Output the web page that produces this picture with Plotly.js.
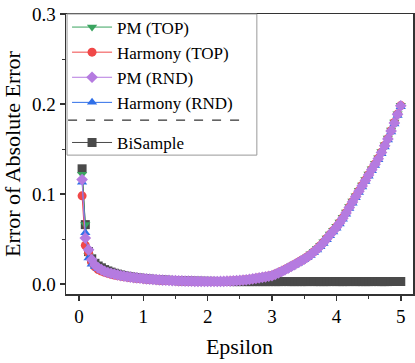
<!DOCTYPE html>
<html>
<head>
<meta charset="utf-8">
<script src="https://cdn.plot.ly/plotly-3.0.1.min.js"></script>
<style>
  html, body { margin: 0; padding: 0; background: #fff; }
  #chart { width: 415px; height: 363px; }
</style>
</head>
<body>
<div id="chart"></div>
<script>
// epsilon values, step 0.05
const epsilon = [
  0.05, 0.10, 0.15, 0.20, 0.25, 0.30, 0.35, 0.40, 0.45, 0.50,
  0.55, 0.60, 0.65, 0.70, 0.75, 0.80, 0.85, 0.90, 0.95, 1.00,
  1.05, 1.10, 1.15, 1.20, 1.25, 1.30, 1.35, 1.40, 1.45, 1.50,
  1.55, 1.60, 1.65, 1.70, 1.75, 1.80, 1.85, 1.90, 1.95, 2.00,
  2.05, 2.10, 2.15, 2.20, 2.25, 2.30, 2.35, 2.40, 2.45, 2.50,
  2.55, 2.60, 2.65, 2.70, 2.75, 2.80, 2.85, 2.90, 2.95, 3.00,
  3.05, 3.10, 3.15, 3.20, 3.25, 3.30, 3.35, 3.40, 3.45, 3.50,
  3.55, 3.60, 3.65, 3.70, 3.75, 3.80, 3.85, 3.90, 3.95, 4.00,
  4.05, 4.10, 4.15, 4.20, 4.25, 4.30, 4.35, 4.40, 4.45, 4.50,
  4.55, 4.60, 4.65, 4.70, 4.75, 4.80, 4.85, 4.90, 4.95, 5.00
];

const pmTop = [
  0.122, 0.066, 0.032, 0.025, 0.021, 0.018, 0.016, 0.0142, 0.0129, 0.0118,
  0.0108, 0.0100, 0.0093, 0.0087, 0.0081, 0.0076, 0.0071, 0.0067, 0.0063, 0.0059,
  0.0056, 0.0053, 0.0050, 0.0048, 0.0045, 0.0043, 0.0041, 0.0039, 0.0038, 0.0036,
  0.0035, 0.0034, 0.0032, 0.0031, 0.0031, 0.0030, 0.0029, 0.0029, 0.0028, 0.0028,
  0.0028, 0.0029, 0.0029, 0.0030, 0.0031, 0.0032, 0.0034, 0.0036, 0.0038, 0.0041,
  0.0045, 0.0049, 0.0053, 0.0058, 0.0064, 0.0070, 0.0076, 0.0083, 0.0090, 0.0098,
  0.0113, 0.0129, 0.0146, 0.0164, 0.0183, 0.0202, 0.0222, 0.0242, 0.0262, 0.0284,
  0.0308, 0.0335, 0.0365, 0.0397, 0.0432, 0.0470, 0.0512, 0.0556, 0.0598, 0.0641,
  0.0690, 0.0743, 0.0800, 0.0861, 0.0921, 0.0981, 0.1041, 0.1101, 0.1161, 0.1221,
  0.1281, 0.1341, 0.1404, 0.1472, 0.1546, 0.1623, 0.1710, 0.1799, 0.1893, 0.1985
];

const harmonyTop = [
  0.098, 0.043, 0.035, 0.024, 0.019, 0.016, 0.0145, 0.0130, 0.0118, 0.0108,
  0.0100, 0.0093, 0.0087, 0.0082, 0.0077, 0.0072, 0.0068, 0.0064, 0.0060, 0.0057,
  0.0054, 0.0051, 0.0049, 0.0046, 0.0044, 0.0042, 0.0040, 0.0039, 0.0037, 0.0036,
  0.0034, 0.0033, 0.0032, 0.0031, 0.0030, 0.0030, 0.0029, 0.0028, 0.0028, 0.0028,
  0.0028, 0.0028, 0.0029, 0.0029, 0.0030, 0.0032, 0.0033, 0.0035, 0.0038, 0.0040,
  0.0044, 0.0048, 0.0052, 0.0057, 0.0063, 0.0069, 0.0075, 0.0081, 0.0088, 0.0095,
  0.0110, 0.0126, 0.0142, 0.0160, 0.0179, 0.0198, 0.0218, 0.0238, 0.0258, 0.0279,
  0.0303, 0.0329, 0.0359, 0.0391, 0.0426, 0.0464, 0.0506, 0.0549, 0.0592, 0.0634,
  0.0682, 0.0735, 0.0793, 0.0855, 0.0914, 0.0974, 0.1034, 0.1094, 0.1155, 0.1214,
  0.1274, 0.1334, 0.1396, 0.1465, 0.1539, 0.1616, 0.1704, 0.1794, 0.1888, 0.1982
];

const pmRnd = [
  0.116, 0.051, 0.038, 0.027, 0.021, 0.018, 0.016, 0.014, 0.0128, 0.0118,
  0.0109, 0.0101, 0.0094, 0.0088, 0.0082, 0.0077, 0.0072, 0.0068, 0.0064, 0.0060,
  0.0057, 0.0054, 0.0051, 0.0048, 0.0046, 0.0044, 0.0042, 0.0040, 0.0038, 0.0037,
  0.0035, 0.0034, 0.0033, 0.0032, 0.0031, 0.0030, 0.0029, 0.0029, 0.0028, 0.0028,
  0.0028, 0.0028, 0.0028, 0.0029, 0.0030, 0.0031, 0.0033, 0.0035, 0.0037, 0.0040,
  0.0043, 0.0047, 0.0051, 0.0056, 0.0062, 0.0068, 0.0074, 0.0080, 0.0086, 0.0093,
  0.0108, 0.0124, 0.0140, 0.0158, 0.0177, 0.0196, 0.0216, 0.0236, 0.0256, 0.0276,
  0.0300, 0.0326, 0.0356, 0.0388, 0.0422, 0.0460, 0.0502, 0.0546, 0.0588, 0.0630,
  0.0678, 0.0730, 0.0788, 0.0850, 0.0910, 0.0970, 0.1030, 0.1090, 0.1150, 0.1210,
  0.1270, 0.1330, 0.1392, 0.1460, 0.1535, 0.1612, 0.1700, 0.1790, 0.1885, 0.1980
];

const harmonyRnd = [
  0.113, 0.057, 0.029, 0.022, 0.0195, 0.017, 0.015, 0.0135, 0.0122, 0.0112,
  0.0104, 0.0096, 0.0090, 0.0084, 0.0079, 0.0074, 0.0070, 0.0066, 0.0062, 0.0058,
  0.0055, 0.0052, 0.0049, 0.0047, 0.0045, 0.0043, 0.0041, 0.0039, 0.0037, 0.0036,
  0.0034, 0.0033, 0.0032, 0.0031, 0.0030, 0.0029, 0.0028, 0.0028, 0.0027, 0.0027,
  0.0027, 0.0027, 0.0027, 0.0028, 0.0029, 0.0030, 0.0032, 0.0034, 0.0036, 0.0039,
  0.0041, 0.0045, 0.0049, 0.0054, 0.0059, 0.0065, 0.0071, 0.0077, 0.0083, 0.0089,
  0.0103, 0.0119, 0.0135, 0.0152, 0.0171, 0.0190, 0.0209, 0.0229, 0.0249, 0.0269,
  0.0292, 0.0318, 0.0347, 0.0379, 0.0413, 0.0450, 0.0492, 0.0536, 0.0578, 0.0620,
  0.0667, 0.0719, 0.0776, 0.0838, 0.0898, 0.0958, 0.1018, 0.1078, 0.1138, 0.1198,
  0.1258, 0.1318, 0.1380, 0.1448, 0.1523, 0.1600, 0.1688, 0.1778, 0.1873, 0.1970
];

const biSample = [
  0.128, 0.066, 0.036, 0.028, 0.023, 0.020, 0.018, 0.016, 0.0145, 0.0132,
  0.0120, 0.0110, 0.0101, 0.0093, 0.0086, 0.0080, 0.0075, 0.0070, 0.0066, 0.0062,
  0.0058, 0.0055, 0.0052, 0.0049, 0.0047, 0.0045, 0.0043, 0.0041, 0.0039, 0.0038,
  0.0036, 0.0035, 0.0034, 0.0033, 0.0032, 0.0031, 0.0031, 0.0030, 0.0030, 0.0029,
  0.0029, 0.0029, 0.0028, 0.0028, 0.0028, 0.0028, 0.0028, 0.0027, 0.0027, 0.0027,
  0.0027, 0.0027, 0.0027, 0.0027, 0.0027, 0.0027, 0.0027, 0.0027, 0.0027, 0.0027,
  0.0027, 0.0027, 0.0027, 0.0028, 0.0027, 0.0027, 0.0027, 0.0027, 0.0027, 0.0027,
  0.0027, 0.0028, 0.0027, 0.0027, 0.0027, 0.0027, 0.0027, 0.0027, 0.0028, 0.0027,
  0.0027, 0.0027, 0.0027, 0.0027, 0.0028, 0.0027, 0.0027, 0.0027, 0.0027, 0.0027,
  0.0027, 0.0028, 0.0027, 0.0027, 0.0027, 0.0027, 0.0028, 0.0028, 0.0028, 0.0028
];

const xTicks = [0, 1, 2, 3, 4, 5];
const yTicks = [0, 0.1, 0.2, 0.3];
const yTickText = ["0.0", "0.1", "0.2", "0.3"];

const serif = "Liberation Serif";

function series(name, y, color, symbol, rank, group) {
  return {
    x: epsilon, y: y, name: name,
    type: "scatter", mode: "lines+markers",
    line: { color: color, width: 1 },
    marker: { color: color, symbol: symbol, size: 9 },
    legendrank: rank, legendgroup: group
  };
}

// drawing order: BiSample at the back, PM (RND) on top
const data = [
  series("BiSample", biSample, "#4a4a4a", "square", 5, "b"),
  series("PM (TOP)", pmTop, "#3aa45f", "triangle-down", 1, "a"),
  series("Harmony (TOP)", harmonyTop, "#f04848", "circle", 2, "a"),
  series("Harmony (RND)", harmonyRnd, "#2f6fe8", "triangle-up", 4, "a"),
  series("PM (RND)", pmRnd, "#b57be0", "diamond", 3, "a")
];

const layout = {
  width: 415, height: 363,
  margin: { l: 66, r: 2, t: 14, b: 69 },
  paper_bgcolor: "#fff", plot_bgcolor: "#fff",
  font: { family: serif, color: "#000", size: 18 },
  showlegend: true,
  legend: {
    x: 0.003, y: 1.016, xanchor: "left", yanchor: "top",
    bgcolor: "rgba(255,255,255,0)",
    borderwidth: 0,
    font: { family: serif, size: 17, color: "#000" },
    traceorder: "grouped", tracegroupgap: 15,
    itemwidth: 40
  },
  xaxis: {
    range: [-0.2, 5.19],
    tickvals: xTicks,
    ticks: "outside", ticklen: 5, tickwidth: 1.5, tickcolor: "#333",
    minor: { dtick: 0.5, ticks: "outside", ticklen: 3, tickwidth: 1, tickcolor: "#333" },
    showline: true, linecolor: "#333", linewidth: 1.5, mirror: true,
    showgrid: false, zeroline: false,
    tickfont: { family: serif, size: 19 },
    title: { text: "Epsilon", font: { family: serif, size: 22 }, standoff: 12 }
  },
  yaxis: {
    range: [-0.0111, 0.3],
    tickvals: yTicks, ticktext: yTickText,
    ticks: "outside", ticklen: 5, tickwidth: 1.5, tickcolor: "#333",
    minor: { dtick: 0.05, ticks: "outside", ticklen: 3, tickwidth: 1, tickcolor: "#333" },
    showline: true, linecolor: "#333", linewidth: 1.5, mirror: true,
    showgrid: false, zeroline: false,
    tickfont: { family: serif, size: 19 },
    title: { text: "Error of Absolute Error", font: { family: serif, size: 22 }, standoff: 12 }
  },
  shapes: [
    // legend frame
    {
      type: "rect", xref: "paper", yref: "paper",
      x0: 0.003, x1: 0.550, y0: 0.496, y1: 1.0,
      line: { color: "#999", width: 1 }
    },
    // dashed separator between the four methods and BiSample
    {
      type: "line", xref: "paper", yref: "paper",
      x0: 0.006, x1: 0.524, y0: 0.621, y1: 0.621,
      line: { color: "#000", width: 1, dash: "dash" }
    }
  ]
};

Plotly.newPlot("chart", data, layout, { displayModeBar: false, staticPlot: true });
</script>
</body>
</html>
